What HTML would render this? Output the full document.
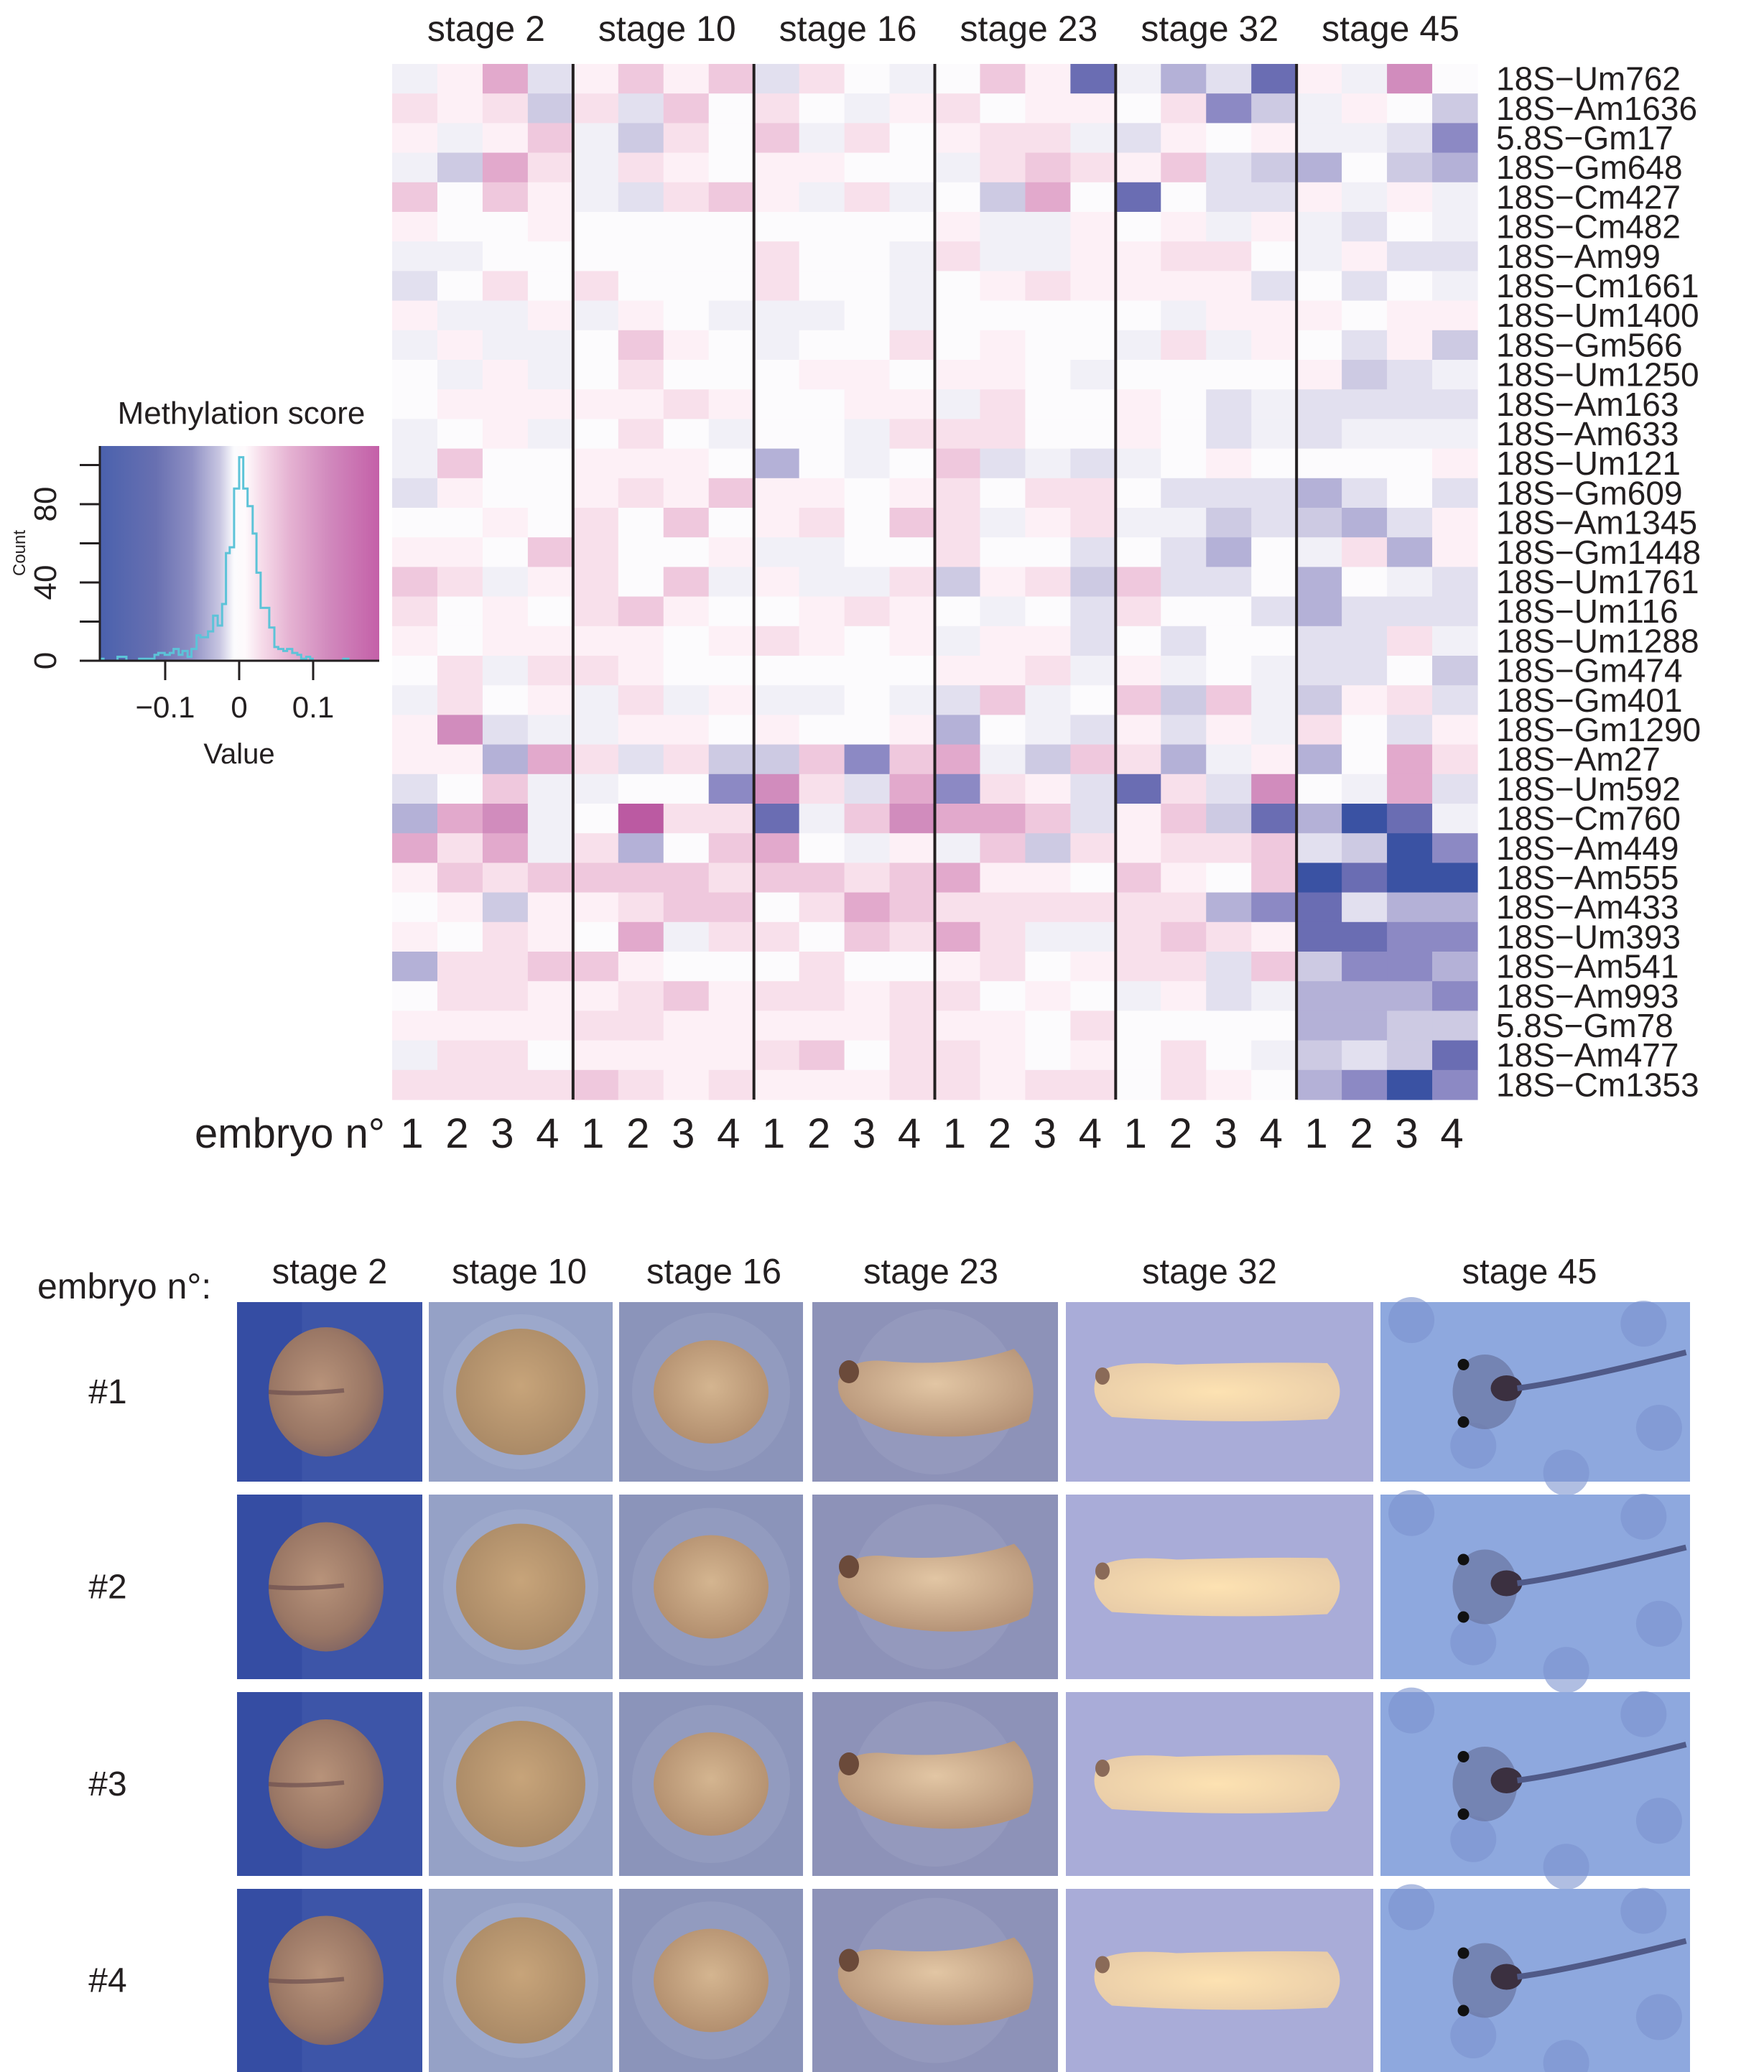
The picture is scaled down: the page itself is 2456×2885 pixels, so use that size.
<!DOCTYPE html>
<html><head><meta charset="utf-8">
<style>
html,body{margin:0;padding:0;background:#fff;}
svg{display:block;font-family:"Liberation Sans",Arial,sans-serif;}
</style></head>
<body>
<svg id="fig" width="2456" height="2885" viewBox="0 0 2456 2885" xmlns="http://www.w3.org/2000/svg">
  <defs>
    <linearGradient id="keygrad" x1="0" x2="1" y1="0" y2="0">
      <stop offset="0" stop-color="#4a61ad"/>
      <stop offset="0.2" stop-color="#6870b1"/>
      <stop offset="0.33" stop-color="#8f90c4"/>
      <stop offset="0.43" stop-color="#c9c7e2"/>
      <stop offset="0.48" stop-color="#fbfbfd"/>
      <stop offset="0.52" stop-color="#fefafc"/>
      <stop offset="0.58" stop-color="#f6dbe9"/>
      <stop offset="0.68" stop-color="#e5b2d2"/>
      <stop offset="0.82" stop-color="#d189bd"/>
      <stop offset="1" stop-color="#c460a8"/>
    </linearGradient>
    <radialGradient id="g-st2" cx="0.45" cy="0.45" r="0.6"><stop offset="0" stop-color="#b8937a"/><stop offset="0.7" stop-color="#9a7765"/><stop offset="1" stop-color="#7f6363"/></radialGradient>
    <radialGradient id="g-st10" cx="0.5" cy="0.45" r="0.6"><stop offset="0" stop-color="#c7a47a"/><stop offset="1" stop-color="#a88865"/></radialGradient>
    <radialGradient id="g-st16" cx="0.5" cy="0.45" r="0.6"><stop offset="0" stop-color="#d4b590"/><stop offset="1" stop-color="#b08c6c"/></radialGradient>
    <radialGradient id="g-st23" cx="0.5" cy="0.4" r="0.6"><stop offset="0" stop-color="#e2c6a4"/><stop offset="1" stop-color="#b69478"/></radialGradient>
    <radialGradient id="g-st32" cx="0.5" cy="0.5" r="0.6"><stop offset="0" stop-color="#fde2b2"/><stop offset="1" stop-color="#e8cca8"/></radialGradient>
  </defs>
  <g id="heatmap"></g>
  <g id="key"></g>
  <g id="photos"></g>
</svg>
<script>
// ---------- heatmap data ----------
const stages = ["stage 2","stage 10","stage 16","stage 23","stage 32","stage 45"];
const embryoNums = ["1","2","3","4"];
const rowLabels = ["18S\u2212Um762","18S\u2212Am1636","5.8S\u2212Gm17","18S\u2212Gm648","18S\u2212Cm427","18S\u2212Cm482","18S\u2212Am99","18S\u2212Cm1661","18S\u2212Um1400","18S\u2212Gm566","18S\u2212Um1250","18S\u2212Am163","18S\u2212Am633","18S\u2212Um121","18S\u2212Gm609","18S\u2212Am1345","18S\u2212Gm1448","18S\u2212Um1761","18S\u2212Um116","18S\u2212Um1288","18S\u2212Gm474","18S\u2212Gm401","18S\u2212Gm1290","18S\u2212Am27","18S\u2212Um592","18S\u2212Cm760","18S\u2212Am449","18S\u2212Am555","18S\u2212Am433","18S\u2212Um393","18S\u2212Am541","18S\u2212Am993","5.8S\u2212Gm78","18S\u2212Am477","18S\u2212Cm1353"];
const scores = [
[-1,1,4,-2, 1,3,1,3, -2,2,0,-1, 0,3,1,-6, -1,-4,-2,-6, 1,-1,5,0],
[2,1,2,-3, 2,-2,3,0, 2,0,-1,1, 2,0,1,1, 0,2,-5,-3, -1,1,0,-3],
[1,-1,1,3, -1,-3,2,0, 3,-1,2,0, 1,2,2,-1, -2,1,0,1, -1,-1,-2,-5],
[-1,-3,4,2, -1,2,1,0, 1,1,0,0, -1,2,3,2, 1,3,-2,-3, -4,0,-3,-4],
[3,0,3,1, -1,-2,2,3, 1,-1,2,-1, 0,-3,4,0, -6,0,-2,-2, 1,-1,1,-1],
[1,0,0,1, 0,0,0,0, 0,0,0,0, 1,-1,-1,1, 0,1,-1,1, -1,-2,0,-1],
[-1,-1,0,0, 0,0,0,0, 2,0,0,-1, 2,-1,-1,1, 1,2,2,0, -1,1,-2,-2],
[-2,0,2,0, 2,0,0,0, 2,0,0,-1, 0,1,2,1, 1,1,1,-2, 0,-2,0,-1],
[1,-1,-1,1, -1,1,0,-1, -1,-1,0,-1, 0,0,0,0, 0,-1,1,1, 1,0,1,1],
[-1,1,-1,-1, 0,3,1,0, -1,0,0,2, 0,1,0,0, -1,2,-1,1, 0,-2,1,-3],
[0,-1,1,-1, 0,2,0,0, 0,1,1,0, 1,1,0,-1, 0,0,0,0, 1,-3,-2,-1],
[0,1,1,1, 1,1,2,1, 0,0,1,1, -1,2,0,0, 1,0,-2,-1, -2,-2,-2,-2],
[-1,0,1,-1, 0,2,0,-1, 0,0,-1,2, 2,2,0,0, 1,0,-2,-1, -2,-1,-1,-1],
[-1,3,0,0, 1,1,1,0, -4,0,-1,0, 3,-2,-1,-2, -1,0,1,0, 0,0,0,1],
[-2,1,0,0, 1,2,1,3, 1,1,0,1, 2,0,2,2, 0,-2,-2,-2, -4,-2,0,-2],
[0,0,1,0, 2,0,3,0, 1,2,0,3, 2,-1,1,2, -1,-1,-3,-2, -3,-4,-2,1],
[1,1,0,3, 2,0,0,1, -1,-1,0,0, 2,0,0,-2, 0,-2,-4,0, -1,2,-4,1],
[3,2,-1,1, 2,0,3,-1, 1,-1,-1,2, -3,1,2,-3, 3,-2,-2,0, -4,0,-1,-2],
[2,0,1,0, 2,3,1,0, 0,1,2,1, 0,-1,0,-2, 2,0,0,-2, -4,-2,-2,-2],
[1,0,1,1, 1,1,0,1, 2,1,0,1, -1,1,1,-2, 0,-2,0,0, -2,-2,2,-1],
[0,2,-1,2, 2,1,0,0, 0,0,0,0, 1,1,2,-1, 1,-1,0,-1, -2,-2,0,-3],
[-1,2,0,1, -1,2,-1,1, -1,-1,0,-1, -2,3,-1,0, 3,-3,3,-1, -3,1,2,-2],
[1,5,-2,-1, -1,1,1,0, 1,0,0,1, -4,0,-1,-2, 1,-2,1,-1, 2,0,-2,1],
[1,1,-4,4, 2,-2,2,-3, -3,3,-5,3, 4,-1,-3,3, 2,-4,-1,1, -4,0,4,2],
[-2,0,3,-1, -1,0,0,-5, 5,2,-2,4, -5,2,1,-2, -6,2,-2,5, 0,-1,4,-2],
[-4,4,5,-1, 0,6,2,2, -6,-1,3,5, 4,4,3,-2, 1,3,-3,-6, -4,-7,-6,-1],
[4,2,4,-1, 2,-4,0,3, 4,0,-1,1, -1,3,-3,2, 1,2,2,3, -2,-3,-7,-5],
[1,3,2,3, 3,3,3,2, 3,3,2,3, 4,1,1,0, 3,1,0,3, -7,-6,-7,-7],
[0,1,-3,1, 1,2,3,3, 0,2,4,3, 2,2,2,2, 2,2,-4,-5, -6,-2,-4,-4],
[1,0,2,1, 0,4,-1,2, 2,0,3,2, 4,2,-1,-1, 2,3,2,1, -6,-6,-5,-5],
[-4,2,2,3, 3,1,0,0, 0,2,0,0, 1,2,0,1, 2,2,-2,3, -3,-5,-5,-4],
[0,2,2,1, 1,2,3,1, 2,2,1,2, 2,0,1,0, -1,1,-2,-1, -4,-4,-4,-5],
[1,1,1,1, 2,2,1,1, 1,1,1,2, 1,1,0,2, 0,0,0,0, -4,-4,-3,-3],
[-1,2,2,0, 1,1,1,1, 2,3,0,2, 2,1,0,1, 0,2,0,-1, -3,-2,-3,-6],
[2,2,2,2, 3,2,1,2, 1,1,1,2, 2,1,2,2, 0,2,1,0, -4,-5,-7,-5]
];
const histEdges = [-0.1876,-0.1834,-0.1645,-0.1593,-0.1524,-0.1352,-0.1145,-0.1093,-0.1007,-0.0938,-0.0886,-0.0817,-0.0766,-0.0697,-0.0645,-0.0576,-0.0524,-0.0421,-0.0352,-0.029,-0.0231,-0.0179,-0.0128,-0.0069,0,0.0055,0.0114,0.0183,0.0234,0.029,0.0407,0.0476,0.0528,0.0597,0.0648,0.0717,0.0786,0.0838,0.0907,0.0959,0.0993,0.1407,0.1476,0.1883];
const histCounts = [1,0,2,2,0,1,3,4,3,4,6,3,5,2,6,13,12,15,23,18,29,55,58,88,104,88,79,65,45,27,17,7,6,5,6,4,3,1,2,1,0,1,0];
const keyXTicks = [-0.1,0,0.1];
const keyXTickLabels = ["\u22120.1","0","0.1"];
const keyYTicks = [0,20,40,60,80,100];
const keyYTickLabels = ["0","","40","","80",""];
const photoRows = ["#1","#2","#3","#4"];

const NS = "http://www.w3.org/2000/svg";
function mk(tag, attrs, parent){ const e=document.createElementNS(NS,tag); for(const k in attrs) e.setAttribute(k,attrs[k]); if(parent) parent.appendChild(e); return e; }

const pos = ["#fcfbfd","#fdf0f6","#f8e0eb","#efc8dd","#e2a9cc","#d18cbd","#bb5aa2"];
const neg = ["#fcfbfd","#f1f0f7","#e2e0ef","#cdcae3","#b4b1d7","#8c89c4","#6a6db3","#3a52a3"];
function colorOf(v){ return v>=0 ? pos[Math.min(v,6)] : neg[Math.min(-v,7)]; }

const HM = {x0:546, y0:89, x1:2057, y1:1531};
const nCols = 24, nRows = rowLabels.length;
const cw = (HM.x1-HM.x0)/nCols, rh = (HM.y1-HM.y0)/nRows;
const colX = c => HM.x0 + c*cw;
const rowY = r => HM.y0 + r*rh;
const hm = document.getElementById('heatmap');
scores.forEach((row,r)=>{
  row.forEach((v,c)=>{
    const e = mk('rect',{x:colX(c).toFixed(2),y:rowY(r).toFixed(2),width:(cw+0.6).toFixed(2),height:(rh+0.6).toFixed(2),fill:colorOf(v)},hm);
    
    
  });
});
for(let g=1; g<6; g++){
  const x = colX(g*4);
  const l = mk('line',{x1:x,x2:x,y1:HM.y0,y2:HM.y1,stroke:'#231f20','stroke-width':4},hm);
  
  
}
stages.forEach((s,g)=>{
  const t = mk('text',{x:colX(g*4+2)+5,y:57,'font-size':50,'text-anchor':'middle',fill:'#231f20'},hm);
  t.textContent = s;
  
  
});
rowLabels.forEach((s,r)=>{
  const t = mk('text',{x:2083,y:(rowY(r)+rh/2+16).toFixed(1),'font-size':46,fill:'#231f20'},hm);
  t.textContent = s;
  
  
});
const en = mk('text',{x:536,y:1598,'font-size':58,'text-anchor':'end',fill:'#231f20'},hm);
en.textContent = "embryo n\u00b0";


for(let c=0;c<nCols;c++){
  const t = mk('text',{x:(colX(c)+cw/2-4).toFixed(1),y:1598,'font-size':58,'text-anchor':'middle',fill:'#231f20'},hm);
  t.textContent = embryoNums[c%4];
  
  
}

const K = {x0:139, x1:528, y0:621, y1:920};
const kx = v => 333 + v*1030;
const ky = n => K.y1 - n*2.725;
const key = document.getElementById('key');
const kr = mk('rect',{x:K.x0,y:K.y0,width:K.x1-K.x0,height:K.y1-K.y0,fill:'url(#keygrad)'},key);


let d = `M${kx(histEdges[0]).toFixed(1)},${ky(0)}`;
histCounts.forEach((n,i)=>{ d += ` L${kx(histEdges[i]).toFixed(1)},${ky(n).toFixed(1)} L${kx(histEdges[i+1]).toFixed(1)},${ky(n).toFixed(1)}`; });
const hp = mk('path',{d:d,fill:'none',stroke:'#5cc3d8','stroke-width':3},key);


const ax = mk('path',{d:`M${K.x0},${K.y0} V${K.y1} H${K.x1}`,fill:'none',stroke:'#231f20','stroke-width':3},key);


mk('line',{x1:112,x2:K.x0,y1:K.y1,y2:K.y1,stroke:'#231f20','stroke-width':3},key);
keyYTicks.forEach((v,i)=>{
  const y = ky(v);
  const tk = mk('line',{x1:111,x2:K.x0,y1:y,y2:y,stroke:'#231f20','stroke-width':3},key);
  
  
  if(keyYTickLabels[i]){
    const t = mk('text',{x:0,y:0,'font-size':44,'text-anchor':'middle',fill:'#231f20',transform:`translate(78,${y}) rotate(-90)`},key);
    t.textContent = keyYTickLabels[i];
    
    
  }
});
keyXTicks.forEach((v,i)=>{
  const x = kx(v);
  const tk = mk('line',{x1:x,x2:x,y1:K.y1,y2:947,stroke:'#231f20','stroke-width':3},key);
  
  
  const t = mk('text',{x:x,y:999,'font-size':42,'text-anchor':'middle',fill:'#231f20'},key);
  t.textContent = keyXTickLabels[i];
  
  
});
const kt = mk('text',{x:336,y:590,'font-size':44,'text-anchor':'middle',fill:'#231f20'},key);
kt.textContent = "Methylation score";


const kv = mk('text',{x:333,y:1063,'font-size':40,'text-anchor':'middle',fill:'#231f20'},key);
kv.textContent = "Value";


const kc = mk('text',{x:0,y:0,'font-size':24,'text-anchor':'middle',fill:'#231f20',transform:'translate(35,770) rotate(-90)'},key);
kc.textContent = "Count";



const ph = document.getElementById('photos');
const pCols = [[330,588],[597,853],[862,1118],[1131,1473],[1484,1912],[1922,2353]];
const pRows = [[1813,2063],[2081,2338],[2356,2612],[2630,2885]];
const bgs = ["#3d55a8","#95a1c6","#8b94ba","#8d92b8","#a9acd8","#8ea8de"];
const pTitle = mk('text',{x:52,y:1808,'font-size':50,fill:'#231f20'},ph);
pTitle.textContent = "embryo n\u00b0:";


const hdrOff = [0,-2,4,-6,-14,-8];
stages.forEach((s,c)=>{
  const t = mk('text',{x:(pCols[c][0]+pCols[c][1])/2+hdrOff[c],y:1787,'font-size':49,'text-anchor':'middle',fill:'#231f20'},ph);
  t.textContent = s;
  
  
});
photoRows.forEach((lab,r)=>{
  const [y0,y1] = pRows[r];
  const t = mk('text',{x:150,y:(y0+y1)/2+16,'font-size':48,'text-anchor':'middle',fill:'#231f20'},ph);
  t.textContent = lab;
  
  
  pCols.forEach(([x0,x1],c)=>{
    const g = mk('g',{},ph);
    
    
    const w=x1-x0,h=y1-y0,cx=(x0+x1)/2,cy=(y0+y1)/2;
    mk('rect',{x:x0,y:y0,width:w,height:h,fill:bgs[c]},g);
    if(c===0){
      mk('rect',{x:x0,y:y0,width:w*0.35,height:h,fill:'#3148a0',opacity:0.6},g);
      mk('ellipse',{cx:cx-5,cy:cy,rx:80,ry:90,fill:'url(#g-st2)'},g);
      mk('path',{d:`M${cx-85},${cy} Q${cx-40},${cy+4} ${cx+20},${cy-2}`,stroke:'#6d5050','stroke-width':6,fill:'none',opacity:0.7},g);
    } else if(c===1){
      mk('circle',{cx:cx,cy:cy,r:108,fill:'#a4afd0',opacity:0.5},g);
      mk('ellipse',{cx:cx,cy:cy,rx:90,ry:88,fill:'url(#g-st10)'},g);
    } else if(c===2){
      mk('circle',{cx:cx,cy:cy,r:110,fill:'#9aa1c4',opacity:0.5},g);
      mk('ellipse',{cx:cx,cy:cy,rx:80,ry:72,fill:'url(#g-st16)'},g);
    } else if(c===3){
      mk('circle',{cx:cx,cy:cy,r:115,fill:'#9ea2c4',opacity:0.45},g);
      mk('path',{d:`M${cx-135},${cy-15} Q${cx-120},${cy-50} ${cx-60},${cy-42} Q${cx+40},${cy-35} ${cx+110},${cy-60} Q${cx+150},${cy-20} ${cx+130},${cy+40} Q${cx+60},${cy+75} ${cx-60},${cy+55} Q${cx-140},${cy+30} ${cx-135},${cy-15} Z`,fill:'url(#g-st23)'},g);
      mk('ellipse',{cx:cx-120,cy:cy-28,rx:14,ry:16,fill:'#6b4a3a'},g);
    } else if(c===4){
      mk('path',{d:`M${cx-170},${cy-25} Q${cx-150},${cy-45} ${cx-60},${cy-38} Q${cx+80},${cy-42} ${cx+150},${cy-40} Q${cx+185},${cy} ${cx+150},${cy+38} Q${cx},${cy+45} ${cx-150},${cy+35} Q${cx-185},${cy+10} ${cx-170},${cy-25} Z`,fill:'url(#g-st32)'},g);
      mk('ellipse',{cx:cx-163,cy:cy-22,rx:10,ry:12,fill:'#8a6a58'},g);
    } else {
      [[0.1,0.1],[0.85,0.12],[0.3,0.8],[0.9,0.7],[0.6,0.95]].forEach(([a,b])=>mk('circle',{cx:x0+a*w,cy:y0+b*h,r:32,fill:'#7b92cf',opacity:0.6},g));
      mk('ellipse',{cx:cx-70,cy:cy,rx:45,ry:52,fill:'#6e7aa8',opacity:0.8},g);
      mk('ellipse',{cx:cx-40,cy:cy-5,rx:22,ry:18,fill:'#3b3040'},g);
      mk('circle',{cx:cx-100,cy:cy-38,r:8,fill:'#111'},g);
      mk('circle',{cx:cx-100,cy:cy+42,r:8,fill:'#111'},g);
      mk('path',{d:`M${cx-25},${cy-5} Q${cx+50},${cy-15} ${cx+210},${cy-55}`,stroke:'#505a88','stroke-width':8,fill:'none'},g);
    }
  });
});
</script>
</body></html>
